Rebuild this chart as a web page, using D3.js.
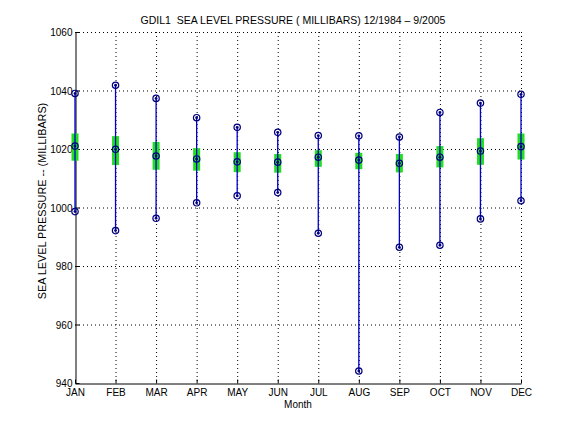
<!DOCTYPE html>
<html>
<head>
<meta charset="utf-8">
<script src="https://cdn.jsdelivr.net/npm/d3@7"></script>
<style>
  body { margin: 0; background: #fff; }
  svg text { font-family: "Liberation Sans", Arial, sans-serif; fill: #000; }
</style>
</head>
<body>
<div id="chart"></div>
<script>
(function() {
  'use strict';

  var months = ['JAN', 'FEB', 'MAR', 'APR', 'MAY', 'JUN', 'JUL', 'AUG', 'SEP', 'OCT', 'NOV', 'DEC'];
  var maxVals = [1039.0, 1041.8, 1037.3, 1030.7, 1027.4, 1025.7, 1024.6, 1024.5, 1024.1, 1032.5, 1035.7, 1038.7];
  var meanVals = [1021.0, 1019.9, 1017.6, 1016.6, 1015.6, 1015.5, 1017.2, 1016.2, 1015.1, 1017.2, 1019.3, 1020.8];
  var minVals = [998.6, 992.1, 996.3, 1001.6, 1004.0, 1005.1, 991.2, 944.1, 986.4, 987.1, 996.1, 1002.3];
  var boxTop = [1025.3, 1024.4, 1022.4, 1020.3, 1018.9, 1018.3, 1019.6, 1018.7, 1018.3, 1021.0, 1023.7, 1025.3];
  var boxBottom = [1016.0, 1014.5, 1012.9, 1012.6, 1012.1, 1011.9, 1013.9, 1013.1, 1012.0, 1013.7, 1014.6, 1016.4];
  var yTicks = [940, 960, 980, 1000, 1020, 1040, 1060];

  var title = 'GDIL1  SEA LEVEL PRESSURE ( MILLIBARS) 12/1984 \u2013 9/2005';
  var yLabel = 'SEA LEVEL PRESSURE -- (MILLIBARS)';
  var xLabel = 'Month';

  var margin = { top: 32, right: 55, bottom: 49, left: 75 };
  var width = 576 - margin.left - margin.right,
    height = 432 - margin.top - margin.bottom;

  var data = months.map(function(m, i) {
    return { month: m, idx: i + 1, max: maxVals[i], mean: meanVals[i], min: minVals[i], top: boxTop[i], bottom: boxBottom[i] };
  });

  var svg = d3.select('#chart').append('svg')
    .attr('width', 576)
    .attr('height', 432);

  var g = svg.append('g')
    .attr('transform', 'translate(' + margin.left + ',' + margin.top + ')');

  var x = d3.scaleLinear().domain([1, 12]).range([0, width]);
  var y = d3.scaleLinear().domain([940, 1060]).range([height, 0]);

  // grid
  g.append('g').selectAll('line')
    .data(yTicks.slice(1))
    .enter().append('line')
    .attr('x1', 0).attr('x2', width)
    .attr('y1', function(d) { return y(d) + 0.5; })
    .attr('y2', function(d) { return y(d) + 0.5; })
    .attr('stroke', '#000').attr('stroke-width', 1).attr('stroke-dasharray', '1,3');

  g.append('g').selectAll('line')
    .data(data.slice(1))
    .enter().append('line')
    .attr('x1', function(d) { return x(d.idx) + 0.5; })
    .attr('x2', function(d) { return x(d.idx) + 0.5; })
    .attr('y1', 0).attr('y2', height)
    .attr('stroke', '#000').attr('stroke-width', 1).attr('stroke-dasharray', '1,3');

  // axes
  var yAxis = d3.axisLeft(y).tickValues(yTicks).tickFormat(d3.format('d'))
    .tickSizeInner(-4).tickSizeOuter(0).tickPadding(3);
  var xAxis = d3.axisBottom(x).tickValues(d3.range(1, 13)).tickFormat(function(d) { return months[d - 1]; })
    .tickSizeInner(-4).tickSizeOuter(0).tickPadding(5);

  var ya = g.append('g').attr('transform', 'translate(0.5,0)').call(yAxis);
  var xa = g.append('g').attr('transform', 'translate(0,' + (height + 0.5) + ')').call(xAxis);
  [ya, xa].forEach(function(a) {
    a.select('.domain').attr('stroke', '#000');
    a.selectAll('.tick line').attr('stroke', '#000');
    a.selectAll('text').style('font-size', '10px').attr('fill', '#000');
  });
  ya.selectAll('text').attr('dy', '0.35em');

  // range lines
  g.append('g').selectAll('line')
    .data(data)
    .enter().append('line')
    .attr('x1', function(d) { return x(d.idx); })
    .attr('x2', function(d) { return x(d.idx); })
    .attr('y1', function(d) { return y(d.max); })
    .attr('y2', function(d) { return y(d.min); })
    .attr('stroke', '#0000cc').attr('stroke-width', 1.3);

  // std boxes
  g.append('g').selectAll('rect')
    .data(data)
    .enter().append('rect')
    .attr('x', function(d) { return x(d.idx) - 3.5; })
    .attr('width', 7)
    .attr('y', function(d) { return y(d.top); })
    .attr('height', function(d) { return y(d.bottom) - y(d.top); })
    .attr('fill', '#22dd22');

  g.append('g').selectAll('line')
    .data(data)
    .enter().append('line')
    .attr('x1', function(d) { return x(d.idx); })
    .attr('x2', function(d) { return x(d.idx); })
    .attr('y1', function(d) { return y(d.top); })
    .attr('y2', function(d) { return y(d.bottom); })
    .attr('stroke', '#0000cc').attr('stroke-width', 1.3);

  // markers
  var pts = [];
  data.forEach(function(d) {
    pts.push({ idx: d.idx, v: d.max }, { idx: d.idx, v: d.mean }, { idx: d.idx, v: d.min });
  });

  var mk = g.append('g').selectAll('g')
    .data(pts)
    .enter().append('g')
    .attr('transform', function(d) { return 'translate(' + x(d.idx) + ',' + y(d.v) + ')'; });
  mk.append('circle').attr('r', 3.2).attr('fill', 'none').attr('stroke', '#000080').attr('stroke-width', 1.2);
  mk.append('circle').attr('r', 1.4).attr('fill', '#000080');

  // labels
  svg.append('text')
    .attr('x', 293).attr('y', 24)
    .attr('text-anchor', 'middle')
    .style('font-size', '10.5px')
    .style('white-space', 'pre')
    .text(title);

  svg.append('text')
    .attr('x', margin.left + width / 2).attr('y', 408)
    .attr('text-anchor', 'middle')
    .style('font-size', '10px')
    .text(xLabel);

  svg.append('text')
    .attr('transform', 'rotate(-90)')
    .attr('x', -201).attr('y', 46)
    .attr('text-anchor', 'middle')
    .style('font-size', '10.8px')
    .text(yLabel);
})();
</script>
</body>
</html>
